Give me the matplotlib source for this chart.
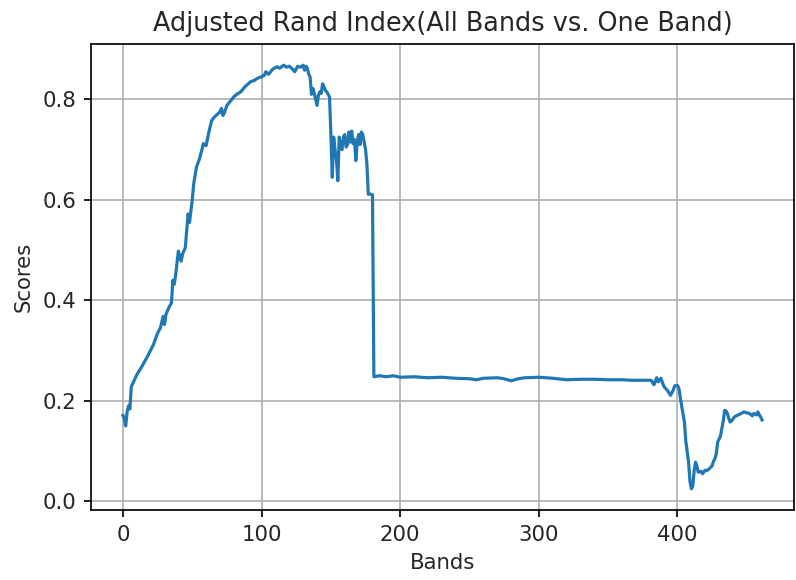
import numpy as np
import matplotlib
matplotlib.use("Agg")
import matplotlib.pyplot as plt

bands = [0, 1, 2, 3, 4, 5, 6, 8, 10, 14, 18, 22, 25, 27, 29, 30, 31, 33, 35, 36, 37, 38,
         40, 41, 42, 43, 45, 46, 47, 48, 49, 50, 51, 53, 55, 57, 58, 60, 62, 64, 66, 68,
         70, 71, 72, 73, 75, 78, 80, 82, 85, 88, 90, 92, 95, 97, 100, 102, 103, 105, 108,
         111, 113, 116, 118, 120, 122, 124, 126, 128, 130, 131, 132, 133, 134, 135, 136,
         137, 138, 139, 140, 141, 142, 143, 144, 145, 146, 147, 148, 149, 150, 151, 152,
         153, 154, 155, 156, 157, 158, 159, 160, 161, 162, 163, 164, 165, 166, 167, 168,
         169, 170, 171, 172, 173, 174, 175, 176, 177, 178, 180, 181, 185, 190, 195, 200,
         210, 220, 230, 240, 250, 255, 260, 270, 275, 280, 285, 290, 300, 310, 320, 330,
         340, 350, 360, 367, 375, 381, 383, 385, 386, 388, 390, 391, 393, 395, 397, 398,
         400, 401, 403, 405, 406, 408, 409, 410, 411, 412, 413, 414, 415, 417, 418, 420,
         421, 423, 425, 426, 427, 428, 429, 431, 432, 433, 434, 435, 436, 437, 438, 439,
         441, 443, 446, 448, 450, 452, 454, 455, 457, 458, 459, 460, 461]
scores = [0.171, 0.165, 0.150, 0.178, 0.190, 0.184, 0.228, 0.240, 0.252, 0.270, 0.290,
          0.312, 0.335, 0.345, 0.368, 0.352, 0.372, 0.385, 0.395, 0.440, 0.432, 0.450,
          0.498, 0.486, 0.478, 0.492, 0.505, 0.540, 0.572, 0.555, 0.578, 0.600, 0.631,
          0.665, 0.680, 0.700, 0.712, 0.708, 0.735, 0.758, 0.765, 0.770, 0.775, 0.782,
          0.768, 0.772, 0.788, 0.798, 0.805, 0.810, 0.815, 0.825, 0.830, 0.835, 0.838,
          0.842, 0.845, 0.848, 0.855, 0.850, 0.860, 0.865, 0.862, 0.868, 0.864, 0.866,
          0.861, 0.855, 0.866, 0.864, 0.868, 0.858, 0.866, 0.862, 0.850, 0.845, 0.810,
          0.822, 0.812, 0.800, 0.788, 0.808, 0.815, 0.812, 0.831, 0.825, 0.818, 0.815,
          0.810, 0.805, 0.730, 0.645, 0.725, 0.700, 0.680, 0.638, 0.725, 0.705, 0.700,
          0.725, 0.730, 0.705, 0.710, 0.735, 0.715, 0.737, 0.712, 0.720, 0.678, 0.715,
          0.730, 0.710, 0.735, 0.730, 0.715, 0.700, 0.670, 0.611, 0.612, 0.610, 0.248,
          0.250, 0.248, 0.250, 0.247, 0.248, 0.246, 0.247, 0.245, 0.244, 0.242, 0.245,
          0.246, 0.244, 0.240, 0.244, 0.246, 0.247, 0.245, 0.242, 0.243, 0.243, 0.242,
          0.242, 0.241, 0.241, 0.241, 0.232, 0.246, 0.238, 0.245, 0.230, 0.226, 0.220,
          0.211, 0.222, 0.230, 0.231, 0.225, 0.190, 0.158, 0.120, 0.078, 0.040, 0.025,
          0.030, 0.060, 0.078, 0.070, 0.058, 0.060, 0.055, 0.062, 0.061, 0.065, 0.071,
          0.080, 0.085, 0.095, 0.118, 0.130, 0.145, 0.160, 0.181, 0.180, 0.175, 0.165,
          0.158, 0.160, 0.168, 0.171, 0.175, 0.178, 0.176, 0.175, 0.170, 0.175, 0.172,
          0.178, 0.172, 0.168, 0.162]

s = 1.53   # scale for everything (ref was saved at a higher dpi)
plt.rcParams['font.size'] = 10 * s
plt.rcParams['text.color'] = '#262626'
plt.rcParams['axes.labelcolor'] = '#262626'
plt.rcParams['xtick.labelcolor'] = '#262626'
plt.rcParams['ytick.labelcolor'] = '#262626'
plt.rcParams['axes.linewidth'] = 0.8 * s
plt.rcParams['axes.labelpad'] = 4 * s
plt.rcParams['xtick.major.size'] = 3.5 * s
plt.rcParams['ytick.major.size'] = 3.5 * s
plt.rcParams['xtick.major.width'] = 0.8 * s
plt.rcParams['ytick.major.width'] = 0.8 * s
plt.rcParams['xtick.major.pad'] = 3.5 * s
plt.rcParams['ytick.major.pad'] = 3.5 * s

fig = plt.figure(figsize=(7.96, 5.8), dpi=100)
ax = fig.add_axes([0.1143, 0.1207, 0.8832, 0.8034])
ax.plot(np.array(bands), np.array(scores), color='#1f77b4', linewidth=1.5 * s)
ax.grid(True, linewidth=0.8 * s, color='#b0b0b0')
ax.set_title('Adjusted Rand Index(All Bands vs. One Band)', fontsize=12 * s, pad=6 * s)
ax.set_xlabel('Bands')
ax.set_ylabel('Scores')
fig.savefig('out.png', dpi=100)
